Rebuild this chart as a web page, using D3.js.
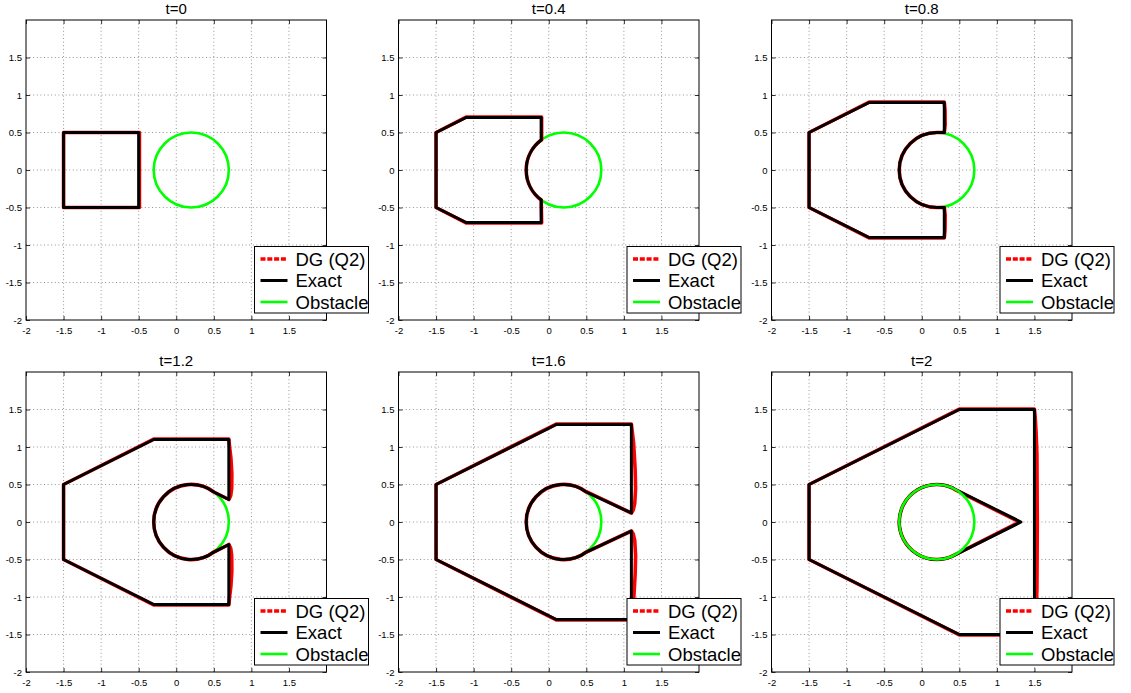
<!DOCTYPE html>
<html><head><meta charset="utf-8">
<script src="https://cdn.jsdelivr.net/npm/d3@7"></script>
<style>body{margin:0;background:#fff}svg{display:block}text{font-family:"Liberation Sans",Arial,Helvetica,sans-serif}</style>
</head><body><svg id="c" width="1131" height="693"></svg>
<script>
// ---------- data ----------
const titles = ["t=0","t=0.4","t=0.8","t=1.2","t=1.6","t=2"];
const tickValues = [-2,-1.5,-1,-0.5,0,0.5,1,1.5];
const tickLabels = ["-2","-1.5","-1","-0.5","0","0.5","1","1.5"];
const gridValues = [-1.5,-1,-0.5,0,0.5,1,1.5];
const legendLabels = ["DG (Q2)","Exact","Obstacle"];
const obstacleCenter = [0.2, 0];
const obstacleRadius = 0.5;
// arcs: {arc:[startDeg,endDeg]} follow the obstacle circle
const exact0  = [[[-1.5,0.5],[-0.5,0.5],[-0.5,-0.5],[-1.5,-0.5]]];
const exact04 = [[[-1.5,0.5],[-1.1,0.7],[-0.1,0.7],[-0.1,0.4],{arc:[126.9,233.1]},[-0.1,-0.7],[-1.1,-0.7],[-1.5,-0.5]]];
const exact08 = [[[-1.5,0.5],[-0.7,0.9],[0.3,0.9],[0.3,0.5],[0.2,0.5],{arc:[90,270]},[0.3,-0.5],[0.3,-0.9],[-0.7,-0.9],[-1.5,-0.5]]];
const exact12 = [[[-1.5,0.5],[-0.3,1.1],[0.7,1.1],[0.7,0.3],[0.5,0.4],{arc:[53.1,306.9]},[0.7,-0.3],[0.7,-1.1],[-0.3,-1.1],[-1.5,-0.5]]];
const exact16 = [[[-1.5,0.5],[0.1,1.3],[1.1,1.3],[1.1,0.12],[0.5,0.4],{arc:[53.1,306.9]},[1.1,-0.12],[1.1,-1.3],[0.1,-1.3],[-1.5,-0.5]]];
const exact2  = [[[-1.5,0.5],[0.5,1.5],[1.5,1.5],[1.5,-1.5],[0.5,-1.5],[-1.5,-0.5]],
                 [[1.32,0],[0.423,0.447],{arc:[63.5,296.5]},[1.32,0]]];
const dg0  = [[[-1.5,0.5],[-0.49,0.5],[-0.49,-0.5],[-1.5,-0.5]]];
const dg04 = [[[-1.5,0.5],[-1.1,0.705],[-0.095,0.705],[-0.095,0.4],{arc:[126.9,233.1]},[-0.095,-0.705],[-1.1,-0.705],[-1.5,-0.5]]];
const dg08 = [[[-1.5,0.5],[-0.7,0.905],[0.3,0.905],[0.31,0.8],[0.312,0.6],[0.3,0.5],[0.2,0.5],{arc:[90,270]},[0.3,-0.5],[0.312,-0.6],[0.31,-0.8],[0.3,-0.905],[-0.7,-0.905],[-1.5,-0.5]]];
const dg12 = [[[-1.5,0.5],[-0.3,1.105],[0.7,1.105],[0.71,1.0],[0.728,0.85],[0.74,0.65],[0.738,0.45],[0.725,0.35],[0.7,0.3],[0.5,0.4],{arc:[53.1,306.9]},
               [0.7,-0.3],[0.725,-0.35],[0.738,-0.45],[0.74,-0.65],[0.728,-0.85],[0.71,-1.0],[0.7,-1.105],[-0.3,-1.105],[-1.5,-0.5]]];
const dg16 = [[[-1.5,0.5],[0.1,1.305],[1.1,1.305],[1.11,1.22],[1.13,1.05],[1.15,0.7],[1.156,0.45],[1.145,0.25],[1.125,0.16],[1.1,0.12],[0.5,0.405],{arc:[53.1,306.9]},
               [1.1,-0.12],[1.125,-0.16],[1.145,-0.25],[1.156,-0.45],[1.15,-0.7],[1.13,-1.05],[1.11,-1.22],[1.1,-1.305],[0.1,-1.305],[-1.5,-0.5]]];
const dg2  = [[[-1.5,0.5],[0.5,1.505],[1.5,1.505],[1.51,1.4],[1.522,1.2],[1.533,0.9],[1.538,0],[1.533,-0.9],[1.522,-1.2],[1.51,-1.4],[1.5,-1.505],[0.5,-1.505],[-1.5,-0.5]],
              [[1.3,0],[0.43,0.437],{arc:[63,297]},[1.3,0]]];
const exactShapes = [exact0, exact04, exact08, exact12, exact16, exact2];
const dgShapes = [dg0, dg04, dg08, dg12, dg16, dg2];
const obstacleOnTop = [true, false, false, false, false, true];

// ---------- layout ----------
const lefts = [26, 398.5, 771.5], tops = [20, 372], W = 300.5, H = 300;
const svg = d3.select("#c");

function ringPath(ring, xs, ys) {
  const p = d3.path(); let started = false;
  const cx = xs(obstacleCenter[0]), cy = ys(obstacleCenter[1]);
  const r = xs(obstacleCenter[0] + obstacleRadius) - cx;
  ring.forEach(s => {
    if (Array.isArray(s)) {
      if (started) p.lineTo(xs(s[0]), ys(s[1])); else p.moveTo(xs(s[0]), ys(s[1]));
      started = true;
    } else {
      const a0 = -s.arc[0] * Math.PI / 180, a1 = -s.arc[1] * Math.PI / 180;
      p.arc(cx, cy, r, a0, a1, s.arc[1] > s.arc[0]);
    }
  });
  p.closePath();
  return p.toString();
}

titles.forEach((title, i) => {
  const left = lefts[i % 3], top = tops[Math.floor(i / 3)];
  const xs = d3.scaleLinear().domain([-2, 2]).range([left, left + W]);
  const ys = d3.scaleLinear().domain([-2, 2]).range([top + H, top]);
  const g = svg.append("g");

  // grid
  g.selectAll(".gx").data(gridValues).enter().append("line")
    .attr("x1", d => xs(d)).attr("x2", d => xs(d)).attr("y1", top).attr("y2", top + H)
    .attr("stroke", "#7a7a7a").attr("stroke-width", 0.8).attr("stroke-dasharray", "1,2.6");
  g.selectAll(".gy").data(gridValues).enter().append("line")
    .attr("y1", d => ys(d)).attr("y2", d => ys(d)).attr("x1", left).attr("x2", left + W)
    .attr("stroke", "#7a7a7a").attr("stroke-width", 0.8).attr("stroke-dasharray", "1,2.6");

  // axes (box, ticks inside)
  const xAxisB = d3.axisBottom(xs).tickValues(tickValues).tickSize(-4).tickFormat((d, k) => tickLabels[k]).tickPadding(7);
  const yAxisL = d3.axisLeft(ys).tickValues(tickValues).tickSize(-4).tickFormat((d, k) => tickLabels[k]).tickPadding(4);
  const xAxisT = d3.axisTop(xs).tickValues(tickValues).tickSize(-4).tickFormat("");
  const yAxisR = d3.axisRight(ys).tickValues(tickValues).tickSize(-4).tickFormat("");
  [[xAxisB, `translate(0,${top + H})`], [yAxisL, `translate(${left},0)`], [xAxisT, `translate(0,${top})`], [yAxisR, `translate(${left + W},0)`]]
    .forEach(([ax, tr]) => {
      const a = g.append("g").attr("transform", tr).call(ax);
      a.select(".domain").remove();
      a.selectAll("line").attr("stroke", "#000").attr("stroke-width", 0.8);
      a.selectAll("text").attr("font-size", 9.5).attr("fill", "#000")
        .attr("font-family", '"Liberation Sans",Arial,sans-serif');
    });
  g.append("rect").attr("x", left).attr("y", top).attr("width", W).attr("height", H)
    .attr("fill", "none").attr("stroke", "#000").attr("stroke-width", 1);

  // title
  g.append("text").attr("x", left + W / 2).attr("y", top - 6.5).attr("text-anchor", "middle")
    .attr("font-size", 15).text(title);

  const drawObstacle = () => g.append("ellipse")
    .attr("cx", xs(obstacleCenter[0])).attr("cy", ys(obstacleCenter[1]))
    .attr("rx", xs(obstacleCenter[0] + obstacleRadius) - xs(obstacleCenter[0]))
    .attr("ry", ys(obstacleCenter[1]) - ys(obstacleCenter[1] + obstacleRadius))
    .attr("fill", "none").attr("stroke", "#00ff00").attr("stroke-width", 2.6);

  if (!obstacleOnTop[i]) drawObstacle();
  g.selectAll(".dg").data(dgShapes[i]).enter().append("path")
    .attr("d", r => ringPath(r, xs, ys)).attr("fill", "none")
    .attr("stroke", "#ff0000").attr("stroke-width", 3.6).attr("stroke-linejoin", "round");
  g.selectAll(".ex").data(exactShapes[i]).enter().append("path")
    .attr("d", r => ringPath(r, xs, ys)).attr("fill", "none")
    .attr("stroke", "#000").attr("stroke-width", 3).attr("stroke-linejoin", "round");
  if (obstacleOnTop[i]) drawObstacle();
});

// legends (drawn last, on top)
const legendColors = ["#ff0000", "#000000", "#00ff00"];
const legendWidths = [3.5, 3, 2.6];
const legendDash = ["5,1.8", null, null];
titles.forEach((t, i) => {
  const left = lefts[i % 3], top = tops[Math.floor(i / 3)];
  const lx = left + W - 72, ly = top + H - 73.5;
  const g = svg.append("g");
  g.append("rect").attr("x", lx).attr("y", ly).attr("width", 114).attr("height", 66.5)
    .attr("fill", "#fff").attr("stroke", "#000").attr("stroke-width", 1);
  legendLabels.forEach((lab, k) => {
    const yy = ly + 12.5 + k * 21.5;
    g.append("line").attr("x1", lx + 6).attr("x2", lx + 33).attr("y1", yy).attr("y2", yy)
      .attr("stroke", legendColors[k]).attr("stroke-width", legendWidths[k])
      .attr("stroke-dasharray", legendDash[k]);
    g.append("text").attr("x", lx + 41).attr("y", yy).attr("dy", "0.36em")
      .attr("font-size", 18.5).text(lab);
  });
});
</script></body></html>
